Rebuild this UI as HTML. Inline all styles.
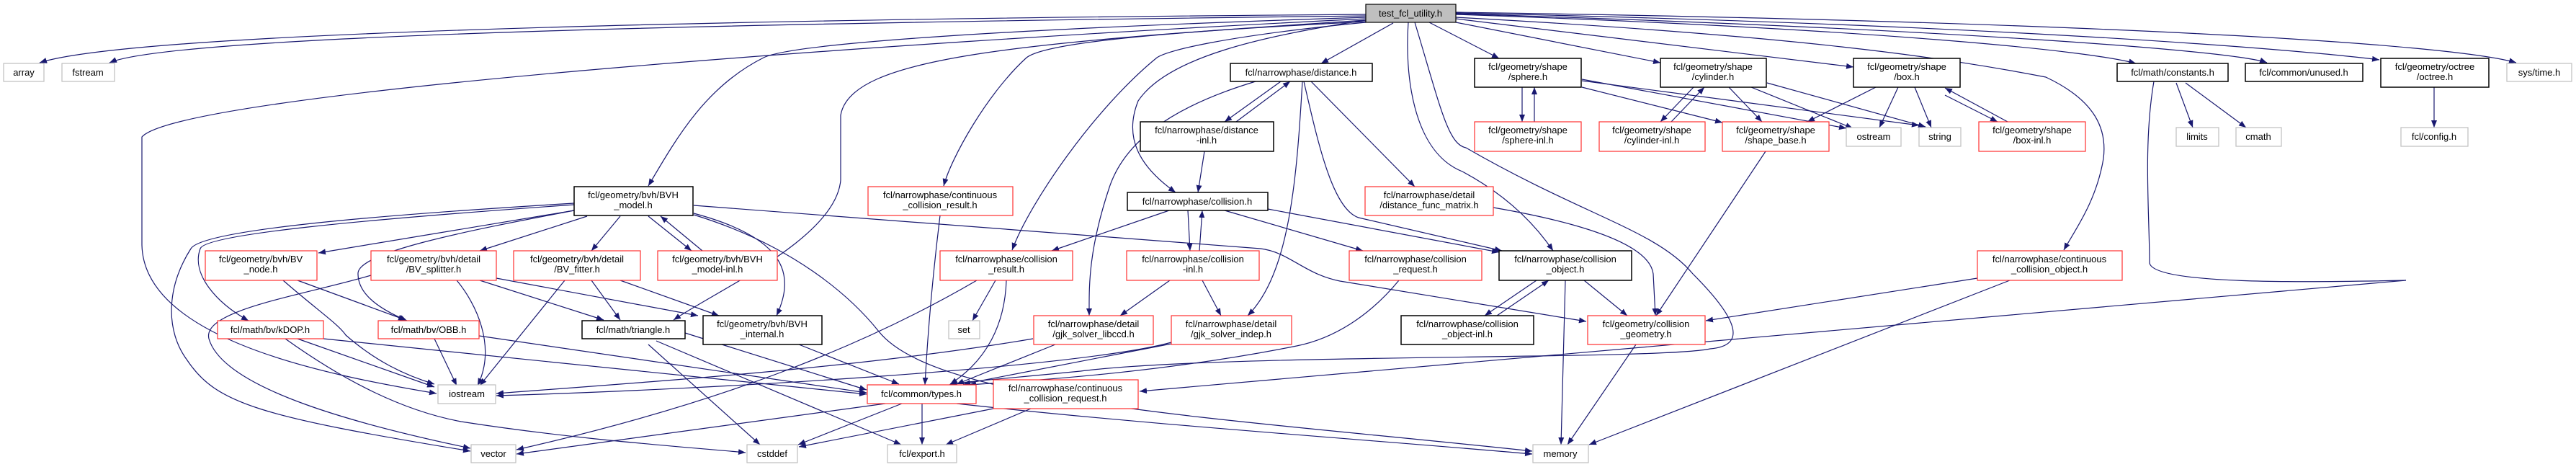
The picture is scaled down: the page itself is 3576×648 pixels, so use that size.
<!DOCTYPE html>
<html><head><meta charset="utf-8"><style>
html,body{margin:0;padding:0;background:#fff;}
svg{display:block;}
text{font-family:"Liberation Sans",sans-serif;font-size:13px;fill:#000;text-anchor:middle;}
.e{fill:none;stroke:#191970;stroke-width:1.2;marker-end:url(#a);}
.g{fill:#fff;stroke:#bfbfbf;stroke-width:1.2;}
.r{fill:#fff;stroke:#ff3030;stroke-width:1.2;}
.b{fill:#fff;stroke:#000;stroke-width:1.5;}
</style></head><body>
<svg width="3576" height="648" viewBox="0 0 3576 648" xmlns="http://www.w3.org/2000/svg">
<defs><marker id="a" markerUnits="userSpaceOnUse" markerWidth="11" markerHeight="9" refX="10" refY="4" orient="auto"><path d="M0,0 L10,4 L0,8 z" fill="#191970"/></marker></defs>
<g>
<path class="e" d="M1896,20 C1200,25 200,40 55,87"/>
<path class="e" d="M1896,22 C1200,30 250,45 152,87"/>
<path class="e" d="M1896,26 C1200,60 250,130 197,190 L197,340 C200,470 450,520 606,546"/>
<path class="e" d="M1896,24 C1400,40 1100,60 1060,80 C980,120 940,190 900,258"/>
<path class="e" d="M1896,28 C1400,60 1180,80 1167,160 L1167,250 C1160,330 1000,400 935,444"/>
<path class="e" d="M1896,30 C1600,45 1450,60 1425,80 C1370,130 1320,220 1310,258"/>
<path class="e" d="M1896,31 C1700,50 1620,70 1606,80 C1520,150 1430,280 1405,347"/>
<path class="e" d="M1934,32 L1834,88"/>
<path class="e" d="M1896,28 C1750,50 1620,80 1580,140 C1560,190 1580,230 1632,267"/>
<path class="e" d="M1955,31 C1950,100 1960,210 2030,238 C2090,270 2130,310 2156,348"/>
<path class="e" d="M1964,31 C2000,150 2010,200 2035,205 C2200,300 2300,320 2350,380 C2420,450 2420,480 2374,484 C2300,500 1700,490 1500,515 C1400,525 1330,530 1318,534"/>
<path class="e" d="M2990,113 C2975,200 2984,300 2984,365 C2990,395 3200,392 3340,389 L1582,543"/>
<path class="e" d="M2745,386 L2368,445"/>
<path class="e" d="M2790,389 L2206,617"/>
<path class="e" d="M797,282 C500,300 280,320 265,345 C230,400 230,460 260,500 C300,560 360,578 653,626"/>
<path class="e" d="M797,284 C500,305 285,325 278,345 C265,380 300,420 345,445"/>
<path class="e" d="M797,292 C650,320 495,350 497,380 C497,410 530,430 565,445"/>
<path class="e" d="M797,292 L442,351"/>
<path class="e" d="M815,300 L666,348"/>
<path class="e" d="M861,300 L821,348"/>
<path class="e" d="M900,300 L960,348"/>
<path class="e" d="M975,348 L917,300"/>
<path class="e" d="M963,296 C1090,330 1105,380 1078,438"/>
<path class="e" d="M963,298 C1100,340 1180,410 1220,460 C1300,560 1700,580 2127,626"/>
<path class="e" d="M963,285 L1750,345 C1790,350 1810,380 1860,390 L2202,446"/>
<path class="e" d="M1760,290 L2081,350"/>
<path class="e" d="M1810,113 C1830,200 1850,290 1886,302 L2085,348"/>
<path class="e" d="M1700,292 L1892,348"/>
<path class="e" d="M1623,292 L1460,348"/>
<path class="e" d="M1649,292 L1652,348"/>
<path class="e" d="M1665,348 L1669,292"/>
<path class="e" d="M1672,210 L1663,267"/>
<path class="e" d="M1778,113 L1700,169"/>
<path class="e" d="M1716,169 L1791,113"/>
<path class="e" d="M1743,113 C1620,150 1560,200 1540,260 C1510,350 1512,400 1512,438"/>
<path class="e" d="M1808,113 C1800,250 1790,380 1732,438"/>
<path class="e" d="M1820,113 L1964,259"/>
<path class="e" d="M2073,288 C2200,310 2290,340 2295,380 L2298,438"/>
<path class="e" d="M1397,389 C1395,450 1370,500 1319,533"/>
<path class="e" d="M1382,389 L1350,445"/>
<path class="e" d="M1356,389 C1200,480 1000,560 717,624"/>
<path class="e" d="M1624,389 L1555,438"/>
<path class="e" d="M1669,389 L1695,438"/>
<path class="e" d="M1465,478 L1328,533"/>
<path class="e" d="M1434,470 C1200,510 900,530 689,546"/>
<path class="e" d="M1626,477 L1337,533"/>
<path class="e" d="M1626,475 C1500,510 1000,540 689,549"/>
<path class="e" d="M1305,299 C1295,380 1288,460 1284,534"/>
<path class="e" d="M1379,567 L1109,620"/>
<path class="e" d="M1431,567 L1313,617"/>
<path class="e" d="M1229,560 L717,630"/>
<path class="e" d="M1252,560 L1108,617"/>
<path class="e" d="M1280,560 L1280,617"/>
<path class="e" d="M1328,560 C1600,590 1900,610 2127,630"/>
<path class="e" d="M1109,478 L1248,533"/>
<path class="e" d="M951,462 L1203,541"/>
<path class="e" d="M900,478 L1055,617"/>
<path class="e" d="M911,473 L1251,617"/>
<path class="e" d="M449,470 L1203,547"/>
<path class="e" d="M413,470 L603,537"/>
<path class="e" d="M396,470 C480,530 560,570 640,585 C800,610 950,620 1035,628"/>
<path class="e" d="M603,470 L634,535"/>
<path class="e" d="M665,466 L1203,545"/>
<path class="e" d="M393,389 C440,430 470,450 480,465 C520,500 560,520 603,533"/>
<path class="e" d="M413,389 L563,444"/>
<path class="e" d="M515,382 C420,410 280,430 290,470 C310,540 500,590 653,622"/>
<path class="e" d="M634,389 C660,420 690,480 663,535"/>
<path class="e" d="M666,389 L838,444"/>
<path class="e" d="M689,386 L969,438"/>
<path class="e" d="M784,389 L666,535"/>
<path class="e" d="M821,389 L861,444"/>
<path class="e" d="M861,389 L998,438"/>
<path class="e" d="M2133,389 L2061,438"/>
<path class="e" d="M2078,438 L2150,389"/>
<path class="e" d="M2199,389 L2259,438"/>
<path class="e" d="M2173,389 L2167,617"/>
<path class="e" d="M1942,389 C1900,440 1850,470 1800,480 C1600,520 1400,530 1345,534"/>
<path class="e" d="M2271,478 L2176,617"/>
<path class="e" d="M2451,210 L2299,438"/>
<path class="e" d="M2113,121 L2113,169"/>
<path class="e" d="M2130,169 L2130,121"/>
<path class="e" d="M2196,121 L2391,170"/>
<path class="e" d="M2196,110 L2563,178"/>
<path class="e" d="M2196,112 L2664,174"/>
<path class="e" d="M2351,121 L2305,169"/>
<path class="e" d="M2320,169 L2366,121"/>
<path class="e" d="M2400,121 L2446,169"/>
<path class="e" d="M2431,121 L2572,178"/>
<path class="e" d="M2453,115 L2673,176"/>
<path class="e" d="M2604,121 L2509,169"/>
<path class="e" d="M2635,121 L2609,177"/>
<path class="e" d="M2658,121 L2681,177"/>
<path class="e" d="M2700,132 L2773,169"/>
<path class="e" d="M2787,169 L2700,122"/>
<path class="e" d="M1984,31 L2081,81"/>
<path class="e" d="M2021,31 L2305,87"/>
<path class="e" d="M2021,26 L2573,93"/>
<path class="e" d="M2021,20 C2600,40 2900,70 2965,88"/>
<path class="e" d="M2021,19 C2700,40 3100,70 3147,87"/>
<path class="e" d="M2021,18 C2800,35 3200,70 3303,83"/>
<path class="e" d="M2021,17 C2900,30 3400,60 3493,87"/>
<path class="e" d="M2021,24 C2500,50 2700,80 2840,107 C2910,140 2925,180 2920,220 C2910,280 2880,320 2865,347"/>
<path class="e" d="M3021,115 L3044,177"/>
<path class="e" d="M3034,115 L3118,177"/>
<path class="e" d="M3379,121 L3379,177"/>
</g>
<g>
<rect x="1896" y="6" width="125" height="25" fill="#bfbfbf" stroke="#000" stroke-width="1.2"/><text x="1958" y="23">test_fcl_utility.h</text>
<rect class="g" x="5" y="88" width="56" height="25"/><text x="33" y="105">array</text>
<rect class="g" x="86" y="88" width="73" height="25"/><text x="122" y="105">fstream</text>
<rect class="b" x="1708" y="88" width="197" height="25"/><text x="1806" y="105">fcl/narrowphase/distance.h</text>
<rect class="b" x="2047" y="81" width="148" height="40"/><text x="2121" y="97">fcl/geometry/shape</text><text x="2121" y="111">/sphere.h</text>
<rect class="b" x="2305" y="81" width="147" height="40"/><text x="2378" y="97">fcl/geometry/shape</text><text x="2378" y="111">/cylinder.h</text>
<rect class="b" x="2573" y="81" width="148" height="40"/><text x="2647" y="97">fcl/geometry/shape</text><text x="2647" y="111">/box.h</text>
<rect class="b" x="2939" y="88" width="154" height="25"/><text x="3016" y="105">fcl/math/constants.h</text>
<rect class="b" x="3117" y="88" width="163" height="25"/><text x="3198" y="105">fcl/common/unused.h</text>
<rect class="b" x="3305" y="81" width="150" height="40"/><text x="3380" y="97">fcl/geometry/octree</text><text x="3380" y="111">/octree.h</text>
<rect class="g" x="3480" y="88" width="90" height="25"/><text x="3525" y="105">sys/time.h</text>
<rect class="b" x="1583" y="169" width="185" height="41"/><text x="1675" y="185">fcl/narrowphase/distance</text><text x="1675" y="199">-inl.h</text>
<rect class="r" x="2047" y="169" width="148" height="41"/><text x="2121" y="185">fcl/geometry/shape</text><text x="2121" y="199">/sphere-inl.h</text>
<rect class="r" x="2220" y="169" width="147" height="41"/><text x="2293" y="185">fcl/geometry/shape</text><text x="2293" y="199">/cylinder-inl.h</text>
<rect class="r" x="2391" y="169" width="148" height="41"/><text x="2465" y="185">fcl/geometry/shape</text><text x="2465" y="199">/shape_base.h</text>
<rect class="g" x="2563" y="177" width="76" height="26"/><text x="2601" y="194">ostream</text>
<rect class="g" x="2664" y="177" width="58" height="26"/><text x="2693" y="194">string</text>
<rect class="r" x="2747" y="169" width="148" height="41"/><text x="2821" y="185">fcl/geometry/shape</text><text x="2821" y="199">/box-inl.h</text>
<rect class="g" x="3021" y="177" width="59" height="26"/><text x="3050" y="194">limits</text>
<rect class="g" x="3104" y="177" width="63" height="26"/><text x="3135" y="194">cmath</text>
<rect class="g" x="3333" y="177" width="93" height="26"/><text x="3379" y="194">fcl/config.h</text>
<rect class="b" x="797" y="259" width="165" height="40"/><text x="879" y="275">fcl/geometry/bvh/BVH</text><text x="879" y="289">_model.h</text>
<rect class="r" x="1205" y="259" width="201" height="40"/><text x="1305" y="275">fcl/narrowphase/continuous</text><text x="1305" y="289">_collision_result.h</text>
<rect class="b" x="1565" y="267" width="195" height="25"/><text x="1662" y="284">fcl/narrowphase/collision.h</text>
<rect class="r" x="1895" y="259" width="178" height="40"/><text x="1984" y="275">fcl/narrowphase/detail</text><text x="1984" y="289">/distance_func_matrix.h</text>
<rect class="r" x="285" y="348" width="155" height="41"/><text x="362" y="364">fcl/geometry/bvh/BV</text><text x="362" y="378">_node.h</text>
<rect class="r" x="515" y="348" width="174" height="41"/><text x="602" y="364">fcl/geometry/bvh/detail</text><text x="602" y="378">/BV_splitter.h</text>
<rect class="r" x="713" y="348" width="176" height="41"/><text x="801" y="364">fcl/geometry/bvh/detail</text><text x="801" y="378">/BV_fitter.h</text>
<rect class="r" x="913" y="348" width="166" height="41"/><text x="996" y="364">fcl/geometry/bvh/BVH</text><text x="996" y="378">_model-inl.h</text>
<rect class="r" x="1305" y="348" width="184" height="41"/><text x="1397" y="364">fcl/narrowphase/collision</text><text x="1397" y="378">_result.h</text>
<rect class="r" x="1564" y="348" width="184" height="41"/><text x="1656" y="364">fcl/narrowphase/collision</text><text x="1656" y="378">-inl.h</text>
<rect class="r" x="1873" y="348" width="184" height="41"/><text x="1965" y="364">fcl/narrowphase/collision</text><text x="1965" y="378">_request.h</text>
<rect class="b" x="2081" y="348" width="184" height="41"/><text x="2173" y="364">fcl/narrowphase/collision</text><text x="2173" y="378">_object.h</text>
<rect class="r" x="2745" y="348" width="201" height="41"/><text x="2845" y="364">fcl/narrowphase/continuous</text><text x="2845" y="378">_collision_object.h</text>
<rect class="r" x="302" y="445" width="147" height="25"/><text x="375" y="462">fcl/math/bv/kDOP.h</text>
<rect class="r" x="525" y="445" width="140" height="25"/><text x="595" y="462">fcl/math/bv/OBB.h</text>
<rect class="b" x="808" y="445" width="143" height="25"/><text x="879" y="462">fcl/math/triangle.h</text>
<rect class="b" x="976" y="438" width="165" height="40"/><text x="1058" y="454">fcl/geometry/bvh/BVH</text><text x="1058" y="468">_internal.h</text>
<rect class="g" x="1317" y="445" width="43" height="25"/><text x="1338" y="462">set</text>
<rect class="r" x="1435" y="438" width="166" height="40"/><text x="1518" y="454">fcl/narrowphase/detail</text><text x="1518" y="468">/gjk_solver_libccd.h</text>
<rect class="r" x="1626" y="438" width="167" height="40"/><text x="1709" y="454">fcl/narrowphase/detail</text><text x="1709" y="468">/gjk_solver_indep.h</text>
<rect class="b" x="1945" y="438" width="184" height="40"/><text x="2037" y="454">fcl/narrowphase/collision</text><text x="2037" y="468">_object-inl.h</text>
<rect class="r" x="2204" y="438" width="163" height="40"/><text x="2285" y="454">fcl/geometry/collision</text><text x="2285" y="468">_geometry.h</text>
<rect class="g" x="608" y="534" width="80" height="26"/><text x="648" y="551">iostream</text>
<rect class="r" x="1204" y="534" width="151" height="26"/><text x="1279" y="551">fcl/common/types.h</text>
<rect class="r" x="1379" y="527" width="201" height="40"/><text x="1479" y="543">fcl/narrowphase/continuous</text><text x="1479" y="557">_collision_request.h</text>
<rect class="g" x="654" y="617" width="62" height="25"/><text x="685" y="634">vector</text>
<rect class="g" x="1037" y="617" width="70" height="25"/><text x="1072" y="634">cstddef</text>
<rect class="g" x="1232" y="617" width="96" height="25"/><text x="1280" y="634">fcl/export.h</text>
<rect class="g" x="2128" y="617" width="77" height="25"/><text x="2166" y="634">memory</text>
</g>
</svg>
</body></html>
